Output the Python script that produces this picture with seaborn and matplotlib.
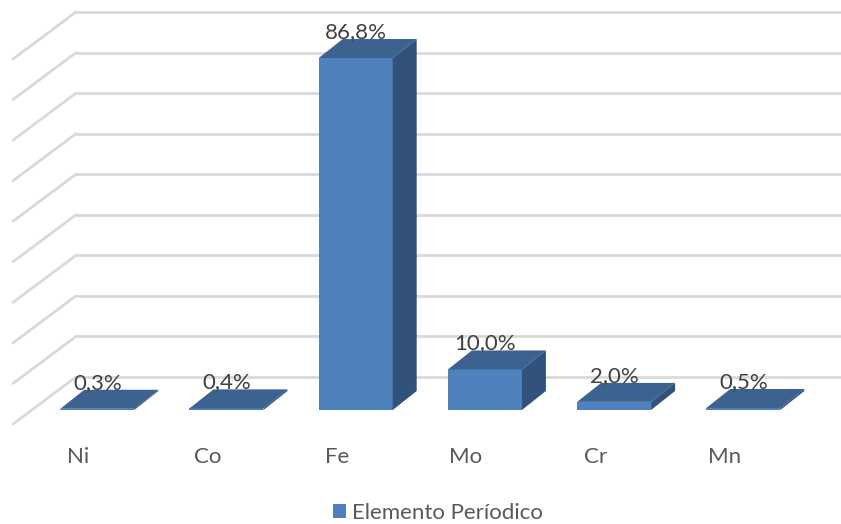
import matplotlib
matplotlib.use("Agg")
import matplotlib.pyplot as plt
from matplotlib.patches import Polygon, Patch
import seaborn as sns
import pandas as pd

# Data
elements = ["Ni", "Co", "Fe", "Mo", "Cr", "Mn"]
shares = [0.3, 0.4, 86.8, 10.0, 2.0, 0.5]
value_labels = ["0,3%", "0,4%", "86,8%", "10,0%", "2,0%", "0,5%"]
series_name = "Elemento Períodico"
grid_values = [0, 10, 20, 30, 40, 50, 60, 70, 80, 90]

df = pd.DataFrame({"element": elements, "share": shares})

sns.set_theme(style="white")
plt.rcParams["font.family"] = ["Lato", "DejaVu Sans"]

FRONT = "#4F81BD"
TOP = "#3C6290"
SIDE = "#30527B"
GRID = "#D9D9D9"
TEXT = "#404040"
LABEL = "#595959"
FS = 16

W, H = 841, 524
fig = plt.figure(figsize=(W / 100, H / 100), dpi=100)
ax = fig.add_axes([0, 0, 1, 1])

# front faces of the bars
x0_px, step_px = 97.3, 129.2        # centre of first category, category spacing
y0_px, unit_px = 410.0, 4.055       # baseline, pixels per percent
sns.barplot(data=df, x="element", y="share", color=FRONT, saturation=1,
            width=74 / step_px, ax=ax, zorder=2, linewidth=0)

# pixel <-> data mapping of the front plane
ax.set_xlim(-x0_px / step_px, (W - x0_px) / step_px)
ax.set_ylim((y0_px - H) / unit_px, y0_px / unit_px)

def px_x(d):
    return d / step_px

def px_y(d):
    return d / unit_px

# back wall grid (horizontal) and side wall grid (diagonal)
wall_back_x = px_x(76 - x0_px)
wall_front_x = px_x(13 - x0_px)
wall_back_y = px_y(y0_px - 377)
wall_front_y = px_y(y0_px - 424)
xmax = ax.get_xlim()[1]
for v in grid_values:
    ax.plot([wall_back_x, xmax], [wall_back_y + v] * 2,
            color=GRID, lw=2.0, zorder=0, solid_capstyle="butt")
    ax.plot([wall_front_x, wall_back_x], [wall_front_y + v, wall_back_y + v],
            color=GRID, lw=2.0, zorder=0)

dx = px_x(24)
dy = px_y(19)
for bar, lab in zip(ax.patches, value_labels):
    x, w, h = bar.get_x(), bar.get_width(), bar.get_height()
    top = Polygon([(x, h), (x + w, h), (x + w + dx, h + dy), (x + dx, h + dy)],
                  closed=True, facecolor=TOP, edgecolor="none", zorder=3)
    side = Polygon([(x + w, 0), (x + w + dx, dy), (x + w + dx, h + dy), (x + w, h)],
                   closed=True, facecolor=SIDE, edgecolor="none", zorder=3)
    ax.add_patch(top)
    ax.add_patch(side)
    ax.text(x + w / 2, h + dy + px_y(7), lab, ha="center", va="center",
            fontsize=FS, color=TEXT, zorder=5)

# category labels on the floor edge
for i, name in enumerate(elements):
    ax.text(i - px_x(19), px_y(y0_px - 457), name, ha="center", va="center",
            fontsize=FS, color=LABEL)

ax.set_xticks([])
ax.set_yticks([])
ax.set_xlabel("")
ax.set_ylabel("")
for s in ax.spines.values():
    s.set_visible(False)

fig.legend(handles=[Patch(facecolor=FRONT, edgecolor="none", label=series_name)],
           loc="center", bbox_to_anchor=(438 / W, 1 - 513 / H), frameon=False,
           fontsize=FS, labelcolor=LABEL, handlelength=0.58, handleheight=0.58,
           handletextpad=0.3, borderpad=0)

fig.savefig("out.png", dpi=100)
